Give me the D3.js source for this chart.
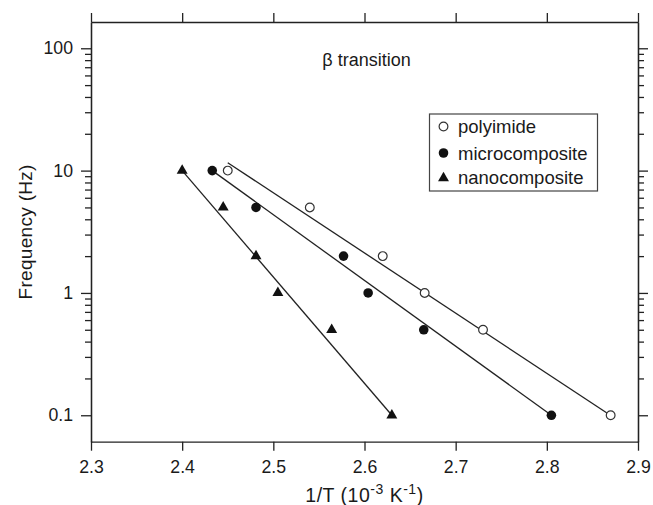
<!DOCTYPE html>
<html>
<head>
<meta charset="utf-8">
<script src="https://cdn.jsdelivr.net/npm/d3@7"></script>
<style>
  body { margin: 0; background: #fff; }
  text { font-family: "Liberation Sans", Arial, sans-serif; fill: #1a1a1a; }
</style>
</head>
<body>
<svg id="chart"></svg>
<script>
// data (x = 1/T in 10^-3 K^-1, y = frequency in Hz)
var polyX = [2.450, 2.540, 2.620, 2.666, 2.730, 2.870];
var polyY = [10, 5, 2, 1, 0.5, 0.1];
var microX = [2.433, 2.481, 2.577, 2.604, 2.665, 2.805];
var microY = [10, 5, 2, 1, 0.5, 0.1];
var nanoX = [2.400, 2.445, 2.481, 2.505, 2.564, 2.630];
var nanoY = [10, 5, 2, 1, 0.5, 0.1];

// fitted straight lines (end points)
var polyFitX = [2.450, 2.868];
var polyFitY = [11.6, 0.102];
var microFitX = [2.433, 2.805];
var microFitY = [10, 0.1];
var nanoFitX = [2.400, 2.630];
var nanoFitY = [10, 0.1];

var xTicks = [2.3, 2.4, 2.5, 2.6, 2.7, 2.8, 2.9];
var yTicks = [0.1, 1, 10, 100];
var yTickLabels = ["0.1", "1", "10", "100"];
var yMinor = [0.2,0.3,0.4,0.5,0.6,0.7,0.8,0.9, 2,3,4,5,6,7,8,9, 20,30,40,50,60,70,80,90];

var legendNames = ["polyimide", "microcomposite", "nanocomposite"];

var size = { width: 653, height: 505 };
var margin = { top: 22, right: 15, bottom: 63.3, left: 91 };
var width = size.width - margin.left - margin.right;
var height = size.height - margin.top - margin.bottom;

var svg = d3.select("#chart")
  .attr("width", size.width)
  .attr("height", size.height);

var g = svg.append("g")
  .attr("transform", "translate(" + margin.left + "," + margin.top + ")");

var x = d3.scaleLinear().domain([2.3, 2.9]).range([0, width]);
var y = d3.scaleLog().domain([0.0608, 164]).range([height, 0]);

var ink = "#222";

// axes
function styleAxis(sel) {
  sel.select(".domain").attr("stroke", ink).attr("stroke-width", 1.3);
  sel.selectAll(".tick line").attr("stroke", ink).attr("stroke-width", 1.3);
  sel.selectAll(".tick text").style("font-size", "17.7px").attr("fill", "#1a1a1a")
    .style("font-family", '"Liberation Sans", Arial, sans-serif');
}

g.append("g")
  .attr("transform", "translate(0," + height + ")")
  .call(d3.axisBottom(x).tickValues(xTicks).tickFormat(d3.format(".1f")).tickSize(9).tickPadding(9.5).tickSizeOuter(0))
  .call(styleAxis);

g.append("g")
  .call(d3.axisTop(x).tickValues(xTicks).tickFormat("").tickSize(9).tickSizeOuter(0))
  .call(styleAxis);

g.append("g")
  .call(d3.axisLeft(y).tickValues(yTicks).tickFormat(function(d, i){ return yTickLabels[i]; }).tickSize(10).tickPadding(8).tickSizeOuter(0))
  .call(styleAxis);

g.append("g")
  .call(d3.axisLeft(y).tickValues(yMinor).tickFormat("").tickSize(6).tickSizeOuter(0))
  .call(styleAxis);

g.append("g")
  .attr("transform", "translate(" + width + ",0)")
  .call(d3.axisRight(y).tickValues(yTicks).tickFormat("").tickSize(10).tickSizeOuter(0))
  .call(styleAxis);

g.append("g")
  .attr("transform", "translate(" + width + ",0)")
  .call(d3.axisRight(y).tickValues(yMinor).tickFormat("").tickSize(6).tickSizeOuter(0))
  .call(styleAxis);

// fit lines
var line = d3.line().x(function(d){ return x(d[0]); }).y(function(d){ return y(d[1]); });
[[polyFitX, polyFitY], [microFitX, microFitY], [nanoFitX, nanoFitY]].forEach(function(f){
  g.append("path")
    .datum(d3.zip(f[0], f[1]))
    .attr("d", line)
    .attr("fill", "none")
    .attr("stroke", ink)
    .attr("stroke-width", 1.3);
});

// markers
var circleSym = d3.symbol().type(d3.symbolCircle).size(72);
var triSym = d3.symbol().type(d3.symbolTriangle).size(52);

g.selectAll(".poly")
  .data(d3.zip(polyX, polyY))
  .enter().append("path")
  .attr("d", d3.symbol().type(d3.symbolCircle).size(60))
  .attr("transform", function(d){ return "translate(" + x(d[0]) + "," + y(d[1]) + ")"; })
  .attr("fill", "#fff")
  .attr("stroke", "#333")
  .attr("stroke-width", 1.2);

g.selectAll(".micro")
  .data(d3.zip(microX, microY))
  .enter().append("path")
  .attr("d", circleSym)
  .attr("transform", function(d){ return "translate(" + x(d[0]) + "," + y(d[1]) + ")"; })
  .attr("fill", "#111");

g.selectAll(".nano")
  .data(d3.zip(nanoX, nanoY))
  .enter().append("path")
  .attr("d", triSym)
  .attr("transform", function(d){ return "translate(" + x(d[0]) + "," + y(d[1]) + ")"; })
  .attr("fill", "#111");

// title
g.append("text")
  .attr("x", width / 2 + 2)
  .attr("y", 44)
  .attr("text-anchor", "middle")
  .style("font-size", "18px")
  .text("β transition");

// legend
var leg = svg.append("g").attr("transform", "translate(429.5,114)");
leg.append("rect")
  .attr("width", 168).attr("height", 77)
  .attr("fill", "#fff").attr("stroke", "#444").attr("stroke-width", 1.2);

var legRows = [12.5, 39, 63.5];
legendNames.forEach(function(name, i){
  var row = leg.append("g").attr("transform", "translate(0," + legRows[i] + ")");
  if (i === 0) {
    row.append("path").attr("d", d3.symbol().type(d3.symbolCircle).size(60))
      .attr("transform", "translate(14,0)")
      .attr("fill", "#fff").attr("stroke", "#333").attr("stroke-width", 1.2);
  } else if (i === 1) {
    row.append("path").attr("d", circleSym).attr("transform", "translate(14,0)").attr("fill", "#111");
  } else {
    row.append("path").attr("d", triSym).attr("transform", "translate(14,0.5)").attr("fill", "#111");
  }
  row.append("text")
    .attr("x", 28.5)
    .attr("dy", "0.36em")
    .style("font-size", "18.5px")
    .text(name);
});

// axis titles
svg.append("text")
  .attr("transform", "translate(32," + (margin.top + height / 2) + ") rotate(-90)")
  .attr("text-anchor", "middle")
  .style("font-size", "19px")
  .style("letter-spacing", "0.3px")
  .text("Frequency (Hz)");

var xl = svg.append("text")
  .attr("x", margin.left + width / 2)
  .attr("y", 501.5)
  .attr("text-anchor", "middle")
  .style("font-size", "19.5px")
  .style("letter-spacing", "0.5px");
xl.append("tspan").text("1/T (10");
xl.append("tspan").attr("dy", -7.5).style("font-size", "14px").text("-3");
xl.append("tspan").attr("dy", 7.5).text(" K");
xl.append("tspan").attr("dy", -7.5).style("font-size", "14px").text("-1");
xl.append("tspan").attr("dy", 7.5).text(")");
</script>
</body>
</html>
